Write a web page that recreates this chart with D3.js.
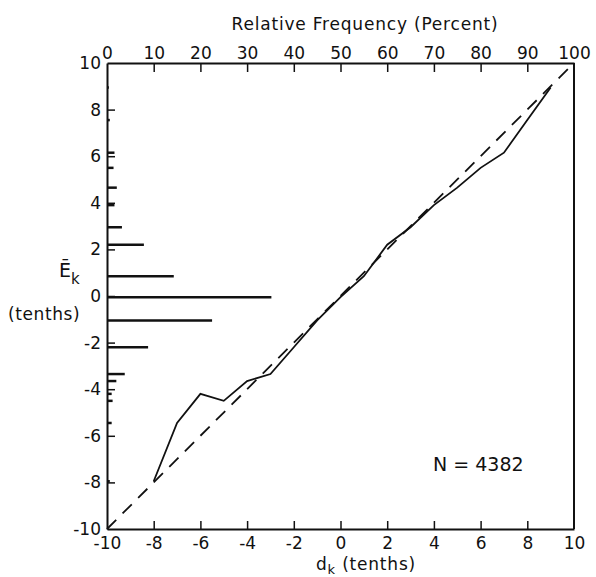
<!DOCTYPE html>
<html>
<head>
<meta charset="utf-8">
<script src="https://cdn.jsdelivr.net/npm/d3@7/dist/d3.min.js"></script>
<style>
  body { margin: 0; background: #fff; }
  svg text { font-family: "DejaVu Sans", sans-serif; fill: #111; }
</style>
</head>
<body>
<div id="chart"></div>
<script>
// d_k bins (tenths), mean E_k per bin (tenths), relative frequency (percent)
var dk   = [-8, -7, -6, -5, -4, -3, -2, -1, 0, 1, 2, 3, 4, 5, 6, 7, 8, 9];
var ek   = [-7.95, -5.45, -4.2, -4.5, -3.65, -3.35, -2.2, -1.05, -0.05, 0.85, 2.2, 2.95, 3.9, 4.65, 5.5, 6.15, 7.55, 8.95];
var freq = [0.6, 1.0, 1.0, 1.2, 2.0, 3.8, 8.8, 22.5, 35.2, 14.3, 7.9, 3.2, 1.6, 2.1, 1.4, 1.6, 0.6, 0.4];

var xTicks = [-10, -8, -6, -4, -2, 0, 2, 4, 6, 8, 10];
var yTicks = [-10, -8, -6, -4, -2, 0, 2, 4, 6, 8, 10];
var pctTicks = [0, 10, 20, 30, 40, 50, 60, 70, 80, 90, 100];
var nText = "N = 4382";

var W = 596, H = 577;
var pLeft = 107, pRight = 574, pTop = 63, pBottom = 529;

var svg = d3.select("#chart").append("svg")
  .attr("width", W).attr("height", H);

var x = d3.scaleLinear().domain([-10, 10]).range([pLeft, pRight]);
var y = d3.scaleLinear().domain([-10, 10]).range([pBottom, pTop]);
var pct = d3.scaleLinear().domain([0, 100]).range([pLeft, pRight]);

var fmt = function (d) { return String(d); };

// bottom axis, ticks pointing inward
var gx = svg.append("g")
  .attr("transform", "translate(0," + pBottom + ")")
  .call(d3.axisBottom(x).tickValues(xTicks).tickFormat(fmt)
    .tickSizeInner(-8).tickSizeOuter(0).tickPadding(8));

// top axis (relative frequency)
var gt = svg.append("g")
  .attr("transform", "translate(0," + pTop + ")")
  .call(d3.axisTop(pct).tickValues(pctTicks).tickFormat(fmt)
    .tickSizeInner(-9).tickSizeOuter(0).tickPadding(4));

// left axis
var gy = svg.append("g")
  .attr("transform", "translate(" + pLeft + ",0)")
  .call(d3.axisLeft(y).tickValues(yTicks).tickFormat(fmt)
    .tickSizeInner(-8).tickSizeOuter(0).tickPadding(6));

// right side frame
svg.append("line")
  .attr("x1", pRight).attr("x2", pRight)
  .attr("y1", pTop).attr("y2", pBottom)
  .attr("stroke", "#111").attr("stroke-width", 2);

[gx, gt, gy].forEach(function (g) {
  g.select(".domain").attr("stroke", "#111").attr("stroke-width", 2);
  g.selectAll(".tick line").attr("stroke", "#111").attr("stroke-width", 1.5);
  g.selectAll(".tick text").attr("font-size", 17).attr("fill", "#111")
    .style("font-family", "DejaVu Sans, sans-serif");
});
// hide the ticks at the corners
gx.selectAll(".tick").filter(function (d) { return d === -10 || d === 10; }).select("line").remove();
gy.selectAll(".tick").filter(function (d) { return d === -10 || d === 10; }).select("line").remove();
gt.selectAll(".tick").filter(function (d) { return d === 0 || d === 100; }).select("line").remove();

// histogram bars along the left axis
svg.append("g").selectAll("line")
  .data(dk.map(function (d, i) { return { e: ek[i], f: freq[i] }; }))
  .enter().append("line")
  .attr("x1", pct(0))
  .attr("x2", function (d) { return pct(d.f); })
  .attr("y1", function (d) { return y(d.e); })
  .attr("y2", function (d) { return y(d.e); })
  .attr("stroke", "#111").attr("stroke-width", 2.5);

// dashed 1:1 line
svg.append("path")
  .datum([-10, 10])
  .attr("d", d3.line().x(function (d) { return x(d); }).y(function (d) { return y(d); }))
  .attr("fill", "none").attr("stroke", "#111")
  .attr("stroke-width", 1.8).attr("stroke-dasharray", "13,9");

// E_k vs d_k
svg.append("path")
  .datum(dk.map(function (d, i) { return [d, ek[i]]; }))
  .attr("d", d3.line().x(function (d) { return x(d[0]); }).y(function (d) { return y(d[1]); }))
  .attr("fill", "none").attr("stroke", "#111").attr("stroke-width", 1.8);

// titles
svg.append("text")
  .attr("x", 365).attr("y", 30)
  .attr("text-anchor", "middle").attr("font-size", 17)
  .attr("letter-spacing", 0.8)
  .text("Relative Frequency (Percent)");

var xl = svg.append("text")
  .attr("x", 366).attr("y", 570)
  .attr("text-anchor", "middle").attr("font-size", 17)
  .attr("letter-spacing", 0.8);
xl.append("tspan").text("d");
xl.append("tspan").attr("font-size", 13).attr("dy", 4).text("k");
xl.append("tspan").attr("dy", -4).text(" (tenths)");

var yl = svg.append("text")
  .attr("x", 59).attr("y", 277)
  .attr("font-size", 19);
yl.append("tspan").text("\u0112");
yl.append("tspan").attr("font-size", 15).attr("dy", 7).text("k");

svg.append("text")
  .attr("x", 8).attr("y", 320)
  .attr("font-size", 17).attr("letter-spacing", 0.6)
  .text("(tenths)");

svg.append("text")
  .attr("x", 433).attr("y", 471)
  .attr("font-size", 19)
  .text(nText);
</script>
</body>
</html>
